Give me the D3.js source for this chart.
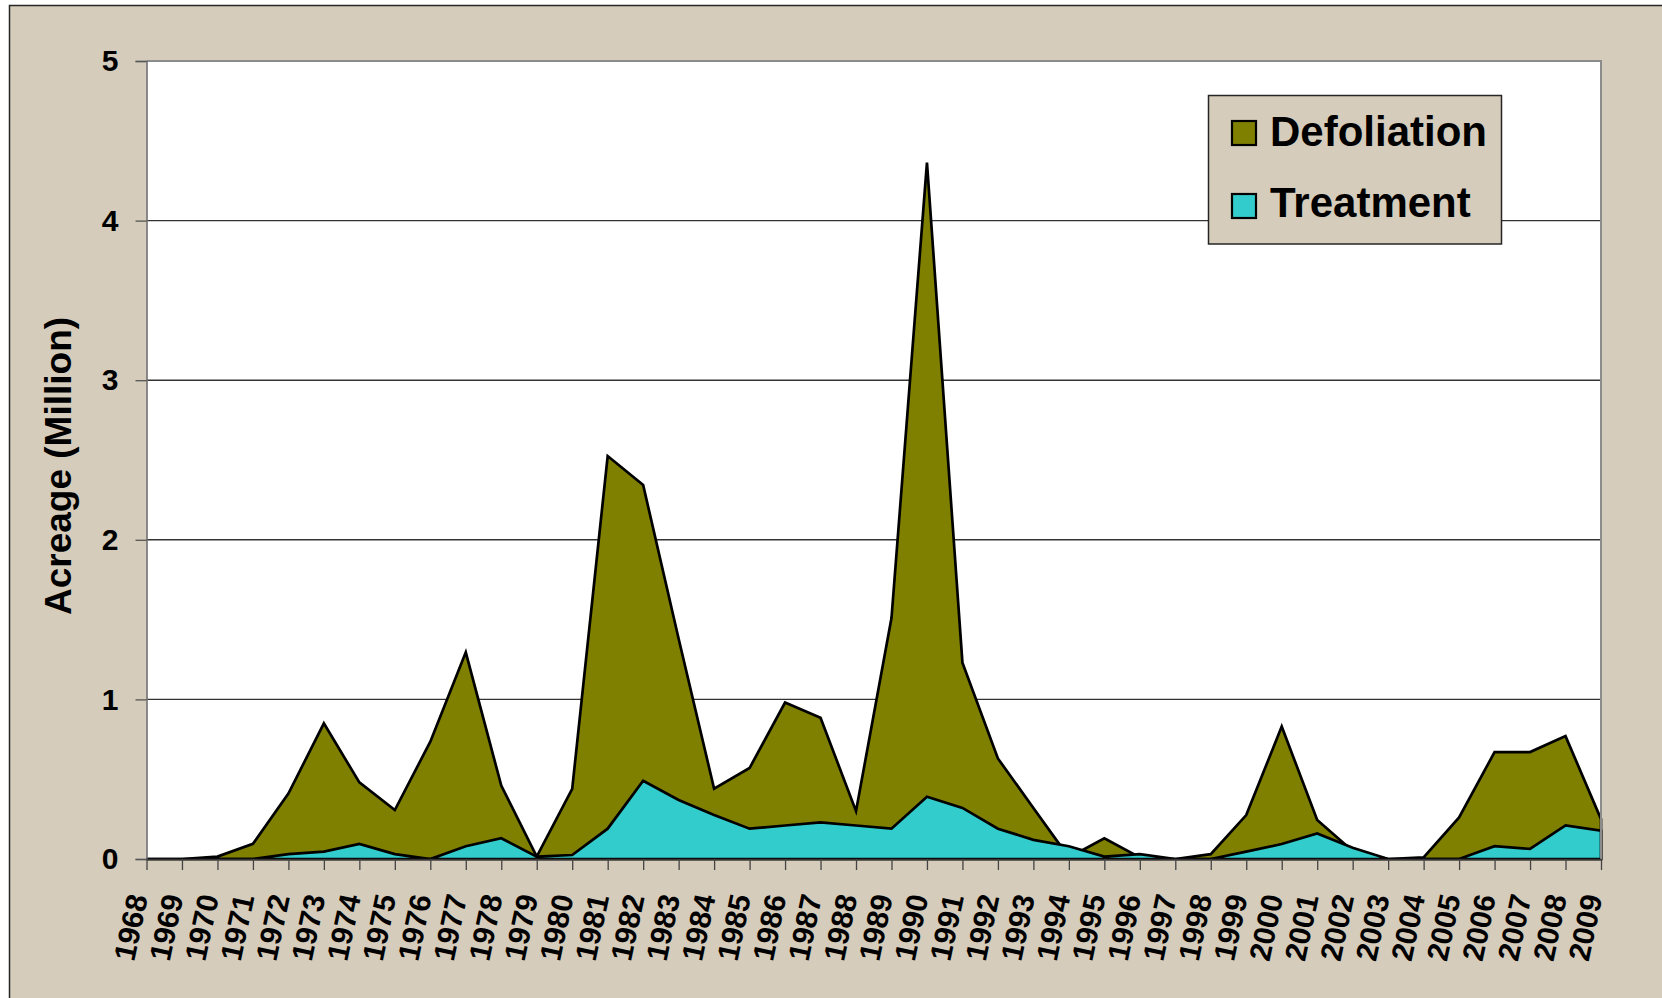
<!DOCTYPE html>
<html>
<head>
<meta charset="utf-8">
<script src="https://cdn.jsdelivr.net/npm/d3@7"></script>
<style>
  html, body { margin: 0; padding: 0; background: #ffffff; }
  svg { display: block; font-family: "Liberation Sans", Arial, Helvetica, sans-serif; }
</style>
</head>
<body>
<svg id="chart" width="1662" height="998"></svg>
<script>
// Acreage (million acres) by year
const years = [1968, 1969, 1970, 1971, 1972, 1973, 1974, 1975, 1976, 1977,
               1978, 1979, 1980, 1981, 1982, 1983, 1984, 1985, 1986, 1987,
               1988, 1989, 1990, 1991, 1992, 1993, 1994, 1995, 1996, 1997,
               1998, 1999, 2000, 2001, 2002, 2003, 2004, 2005, 2006, 2007,
               2008, 2009];

const defoliation = [0, 0, 0.015, 0.095, 0.41, 0.85, 0.48, 0.307, 0.735, 1.295,
                     0.46, 0.015, 0.44, 2.525, 2.343, 1.38, 0.44, 0.57, 0.98, 0.885,
                     0.30, 1.51, 4.363, 1.23, 0.63, 0.32, 0.01, 0.13, 0.01, 0,
                     0.03, 0.275, 0.83, 0.245, 0.05, 0, 0.01, 0.26, 0.67, 0.67,
                     0.77, 0.25];

const treatment = [0, 0, 0, 0, 0.03, 0.046, 0.094, 0.031, 0, 0.08,
                   0.13, 0.015, 0.025, 0.19, 0.49, 0.37, 0.275, 0.19, 0.21, 0.23,
                   0.21, 0.19, 0.39, 0.32, 0.19, 0.12, 0.08, 0.015, 0.03, 0,
                   0, 0.046, 0.094, 0.16, 0.07, 0, 0, 0, 0.08, 0.063,
                   0.21, 0.177];

const yTicks = [0, 1, 2, 3, 4, 5];
const seriesNames = ["Defoliation", "Treatment"];
const seriesColors = ["#808000", "#33CCCC"];

const svg = d3.select("#chart");
const W = 1662, H = 998;
const frameBg = "#D5CCBB";

const plot = { left: 146.5, right: 1601, top: 61, bottom: 859 };

// Outer chart frame
svg.append("rect")
  .attr("x", 9.5).attr("y", 5.5)
  .attr("width", W + 40).attr("height", H + 40)
  .attr("fill", frameBg)
  .attr("stroke", "#262626").attr("stroke-width", 1.5);

const x = d3.scalePoint().domain(years).range([plot.left, plot.right]);
const y = d3.scaleLinear().domain([0, 5]).range([plot.bottom, plot.top]);

// Plot area
svg.append("rect")
  .attr("x", plot.left).attr("y", plot.top)
  .attr("width", plot.right - plot.left).attr("height", plot.bottom - plot.top)
  .attr("fill", "#ffffff");

// Horizontal gridlines
svg.append("g")
  .selectAll("line")
  .data(yTicks.filter(d => d > 0 && d < 5))
  .join("line")
  .attr("x1", plot.left).attr("x2", plot.right)
  .attr("y1", d => y(d)).attr("y2", d => y(d))
  .attr("stroke", "#333").attr("stroke-width", 1.4);

// Areas: defoliation behind, treatment in front
const rows = years.map((yr, i) => ({ yr, def: defoliation[i], trt: treatment[i] }));

const areaDef = d3.area().x(d => x(d.yr)).y0(y(0)).y1(d => y(d.def));
const areaTrt = d3.area().x(d => x(d.yr)).y0(y(0)).y1(d => y(d.trt));

svg.append("path")
  .datum(rows)
  .attr("d", areaDef)
  .attr("fill", seriesColors[0])
  .attr("stroke", "#000").attr("stroke-width", 2.7)
  .attr("stroke-linejoin", "miter");

svg.append("path")
  .datum(rows)
  .attr("d", areaTrt)
  .attr("fill", seriesColors[1])
  .attr("stroke", "#000").attr("stroke-width", 2.7)
  .attr("stroke-linejoin", "miter");

// Plot border: top and right edges
svg.append("path")
  .attr("d", `M${plot.left},${plot.top}H${plot.right}V${plot.bottom}`)
  .attr("fill", "none")
  .attr("stroke", "#8c8c8c").attr("stroke-width", 2);

// Y axis
const yAxis = svg.append("g")
  .attr("transform", `translate(${plot.left},0)`)
  .call(d3.axisLeft(y).tickValues(yTicks).tickSize(11).tickPadding(17).tickFormat(d3.format("d")));
yAxis.select(".domain").attr("stroke", "#6e6e6e").attr("stroke-width", 1.6);
yAxis.selectAll(".tick line").attr("stroke", "#555").attr("stroke-width", 1.3);
yAxis.selectAll(".tick text")
  .attr("fill", "#000")
  .attr("font-size", 30).attr("font-weight", "bold")
  .attr("dy", "0.32em");

// X axis
const xAxis = svg.append("g")
  .attr("transform", `translate(0,${plot.bottom})`)
  .call(d3.axisBottom(x).tickSize(11).tickSizeOuter(0));
xAxis.select(".domain").attr("stroke", "#333").attr("stroke-width", 1.6);
xAxis.selectAll(".tick line").attr("stroke", "#444").attr("stroke-width", 1.3);
xAxis.selectAll(".tick text")
  .attr("fill", "#000")
  .attr("font-size", 30).attr("font-weight", "bold")
  .attr("text-anchor", "end")
  .attr("x", 0).attr("y", 0).attr("dy", 0)
  .attr("transform", "translate(1,38) rotate(-78)");

// Y axis title
svg.append("text")
  .attr("transform", "translate(71,466) rotate(-90)")
  .attr("text-anchor", "middle")
  .attr("font-size", 37).attr("font-weight", "bold")
  .attr("fill", "#000")
  .text("Acreage (Million)");

// Legend
const legend = svg.append("g");
legend.append("rect")
  .attr("x", 1208.5).attr("y", 95.5)
  .attr("width", 293).attr("height", 148.5)
  .attr("fill", frameBg)
  .attr("stroke", "#262626").attr("stroke-width", 1.5);

const legendRows = [
  { name: seriesNames[0], color: seriesColors[0], sy: 121, ty: 146 },
  { name: seriesNames[1], color: seriesColors[1], sy: 194, ty: 217 }
];
const lg = legend.selectAll("g.item").data(legendRows).join("g").attr("class", "item");
lg.append("rect")
  .attr("x", 1232).attr("y", d => d.sy)
  .attr("width", 24).attr("height", 24)
  .attr("fill", d => d.color)
  .attr("stroke", "#000").attr("stroke-width", 2.2);
lg.append("text")
  .attr("x", 1270).attr("y", d => d.ty)
  .attr("font-size", 42).attr("font-weight", "bold")
  .attr("fill", "#000")
  .text(d => d.name);
</script>
</body>
</html>
